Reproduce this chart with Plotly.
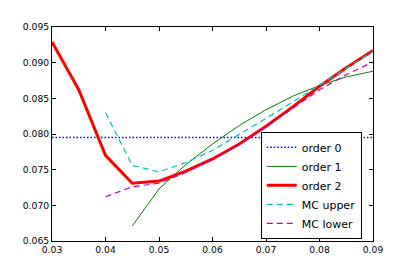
import plotly.graph_objects as go

x_all = [0.03, 0.035, 0.04, 0.045, 0.05, 0.055, 0.06, 0.065, 0.07, 0.075, 0.08, 0.085, 0.09]
order0 = [0.0795, 0.0795, 0.0795, 0.0795, 0.0795, 0.0795, 0.0795, 0.0795, 0.0795, 0.0795, 0.0795, 0.0795, 0.0795]
order2 = [0.0929, 0.0862, 0.0770, 0.0731, 0.0734, 0.0748, 0.0765, 0.0786, 0.0811, 0.0838, 0.0867, 0.0893, 0.0917]

x_o1 = [0.045, 0.05, 0.055, 0.06, 0.065, 0.07, 0.075, 0.08, 0.085, 0.09]
order1 = [0.0671, 0.0723, 0.0757, 0.0786, 0.0812, 0.0834, 0.0853, 0.0868, 0.0880, 0.0888]

x_mc = [0.04, 0.045, 0.05, 0.055, 0.06, 0.065, 0.07, 0.075, 0.08, 0.085, 0.09]
mc_upper = [0.0830, 0.0756, 0.0747, 0.0760, 0.0777, 0.0799, 0.0822, 0.0845, 0.0868, 0.0892, 0.0916]
mc_lower = [0.0712, 0.0726, 0.0731, 0.0746, 0.0764, 0.0785, 0.0810, 0.0836, 0.0862, 0.0883, 0.0901]

x_ticks = [0.03, 0.04, 0.05, 0.06, 0.07, 0.08, 0.09]
x_tick_labels = ["0.03", "0.04", "0.05", "0.06", "0.07", "0.08", "0.09"]
y_ticks = [0.065, 0.070, 0.075, 0.080, 0.085, 0.090, 0.095]
y_tick_labels = ["0.065", "0.070", "0.075", "0.080", "0.085", "0.090", "0.095"]

fig = go.Figure()
fig.add_trace(go.Scatter(x=x_all, y=order0, mode="lines", name="order 0",
                         line=dict(color="#0000ff", width=1.5, dash="1.5px,2px")))
fig.add_trace(go.Scatter(x=x_o1, y=order1, mode="lines", name="order 1",
                         line=dict(color="#008000", width=1)))
fig.add_trace(go.Scatter(x=x_all, y=order2, mode="lines", name="order 2",
                         line=dict(color="#ff0000", width=3)))
fig.add_trace(go.Scatter(x=x_mc, y=mc_upper, mode="lines", name="MC upper",
                         line=dict(color="#00bfbf", width=1.2, dash="6px,4px")))
fig.add_trace(go.Scatter(x=x_mc, y=mc_lower, mode="lines", name="MC lower",
                         line=dict(color="#bf00bf", width=1.2, dash="6px,4px")))

axis_common = dict(showgrid=False, zeroline=False, showline=True, linecolor="black",
                   linewidth=1, mirror="allticks", ticks="inside", ticklen=4,
                   tickcolor="black", tickfont=dict(family="DejaVu Sans", size=9.2, color="black"))
fig.update_xaxes(range=[0.03, 0.09], tickvals=x_ticks, ticktext=x_tick_labels, **axis_common)
fig.update_yaxes(range=[0.065, 0.095], tickvals=y_ticks, ticktext=y_tick_labels, **axis_common)

fig.update_layout(
    width=399, height=261,
    margin=dict(l=44, r=34, t=19, b=28),
    paper_bgcolor="white", plot_bgcolor="white",
    font=dict(family="DejaVu Sans", size=9.2, color="black"),
    legend=dict(x=0.965, y=0.01, xanchor="right", yanchor="bottom",
                bgcolor="white", bordercolor="black", borderwidth=1,
                font=dict(family="DejaVu Sans", size=11), tracegroupgap=0,
                itemwidth=30),
    showlegend=True,
)

fig.write_html("out.html")
